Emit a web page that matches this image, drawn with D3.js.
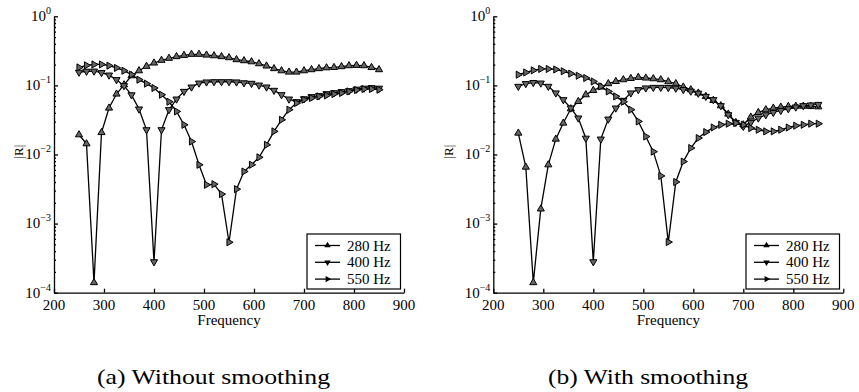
<!DOCTYPE html>
<html>
<head>
<meta charset="utf-8">
<script src="https://cdn.jsdelivr.net/npm/d3@7"></script>
</head>
<body style="margin:0">
<div id="chart"></div>
<script>
// frequencies of the sampled points
const freqs = [250,265,280,295,310,325,340,355,370,385,400,415,430,445,460,475,490,505,520,535,
  550,565,580,595,610,625,640,655,670,685,700,715,730,745,760,775,790,805,820,835,850];

// (a) without smoothing
const left280 = [0.0193,0.0143,0.00014,0.0208,0.047,0.075,0.102,0.138,0.163,0.189,
  0.211,0.231,0.247,0.261,0.272,0.282,0.282,0.275,0.269,0.261,
  0.252,0.236,0.228,0.220,0.206,0.191,0.175,0.163,0.156,0.156,
  0.163,0.169,0.175,0.180,0.182,0.187,0.193,0.195,0.193,0.182,0.169];
const left400 = [0.155,0.160,0.161,0.153,0.141,0.121,0.099,0.073,0.0455,0.0228,
  0.00028,0.0228,0.0445,0.0634,0.0818,0.0946,0.108,0.112,0.113,0.113,
  0.113,0.112,0.109,0.107,0.101,0.0946,0.0847,0.0733,0.0634,0.058,
  0.064,0.0686,0.071,0.0758,0.0783,0.081,0.0838,0.0881,0.091,0.0927,0.091];
const left550 = [0.182,0.195,0.201,0.201,0.193,0.179,0.163,0.143,0.121,0.106,
  0.0917,0.0733,0.058,0.042,0.0269,0.0154,0.0071,0.00364,0.00372,0.00267,
  0.000537,0.00315,0.00567,0.0071,0.0091,0.0138,0.0216,0.0318,0.0445,0.0556,
  0.0621,0.0657,0.0693,0.0716,0.075,0.0776,0.0818,0.0857,0.0887,0.0887,0.0867];

// (b) with smoothing
const right280 = [0.0204,0.00657,0.00014,0.00163,0.0071,0.0167,0.0285,0.0459,0.0586,0.0733,
  0.0847,0.0948,0.106,0.114,0.121,0.126,0.131,0.128,0.125,0.121,
  0.113,0.106,0.0948,0.0867,0.0776,0.0693,0.0607,0.0508,0.0385,0.0291,
  0.0269,0.0348,0.0406,0.0445,0.047,0.0486,0.0497,0.050,0.050,0.0497,0.049];
const right400 = [0.0968,0.106,0.110,0.108,0.0968,0.0776,0.0621,0.047,0.0337,0.0172,
  0.00028,0.0167,0.0325,0.047,0.0607,0.0776,0.0867,0.0917,0.0935,0.0935,
  0.093,0.091,0.087,0.0825,0.077,0.0693,0.0621,0.0508,0.0376,0.0291,
  0.0255,0.0291,0.0337,0.0376,0.0406,0.0434,0.0459,0.0486,0.0508,0.052,0.053];
const right550 = [0.143,0.154,0.165,0.173,0.173,0.170,0.160,0.148,0.138,0.128,
  0.114,0.0968,0.0818,0.0693,0.058,0.0445,0.0301,0.0182,0.011,0.0049,
  0.00054,0.004,0.0079,0.0124,0.0173,0.0211,0.0246,0.0269,0.0279,0.0285,
  0.0269,0.0241,0.0228,0.0216,0.0216,0.0228,0.0246,0.0261,0.0269,0.0279,0.0279];

const seriesNames = ["280 Hz", "400 Hz", "550 Hz"];
const xTicks = [200,300,400,500,600,700,800,900];
const yExps = [-4,-3,-2,-1,0];

const svg = d3.select("#chart").append("svg").attr("width", 859).attr("height", 392);

// every text goes through here so it gets the serif face
function txt(sel, size) {
  return sel.append("text").attr("font-family", "Liberation Serif").attr("font-size", size);
}

const markerRot = [0, 180, 90]; // up, down, right
const tri = d3.symbol().type(d3.symbolTriangle);

const panels = [
  { x0: 54, data: [left280, left400, left550], caption: "(a) Without smoothing", capX: 97, capW: 233, labX: 22.5, legX: 307 },
  { x0: 493.3, data: [right280, right400, right550], caption: "(b) With smoothing", capX: 548, capW: 200, labX: 452.5, legX: 746 }
];

let minors = [];
for (let e = -4; e < 0; e++) for (let m = 2; m <= 9; m++) minors.push(m * Math.pow(10, e));

panels.forEach(function (p) {
  let x = d3.scaleLinear().domain([200, 900]).range([p.x0, p.x0 + 350]);
  let y = d3.scaleLog().domain([1e-4, 1]).range([292.7, 16.3]);

  // axes first, text labels drawn by hand
  let ax = svg.append("g");
  ax.append("g").attr("transform", "translate(0," + y(1e-4) + ")")
    .call(d3.axisBottom(x).tickValues(xTicks).tickSizeInner(-4).tickSizeOuter(0).tickFormat(""));
  ax.append("g").attr("transform", "translate(" + p.x0 + ",0)")
    .call(d3.axisLeft(y).tickValues(yExps.map(e => Math.pow(10, e))).tickSizeInner(-4).tickSizeOuter(0).tickFormat(""));
  ax.append("g").attr("transform", "translate(" + p.x0 + ",0)")
    .call(d3.axisLeft(y).tickValues(minors).tickSizeInner(-2).tickSizeOuter(0).tickFormat(""))
    .select(".domain").remove();
  ax.selectAll(".domain, .tick line").attr("stroke", "#000").attr("stroke-width", 1.3);
  ax.selectAll(".tick text").remove();

  // lines + markers
  let g = svg.append("g");
  p.data.forEach(function (vals, si) {
    let pts = freqs.map((f, i) => [f, vals[i]]);
    g.append("path").datum(pts)
      .attr("d", d3.line().x(d => x(d[0])).y(d => y(d[1])))
      .attr("fill", "none").attr("stroke", "#000").attr("stroke-width", 1.3);
    g.selectAll(null).data(pts).join("path")
      .attr("d", tri.size(22)())
      .attr("transform", d => "translate(" + x(d[0]) + "," + y(d[1]) + ") rotate(" + markerRot[si] + ")")
      .attr("fill", "#666").attr("stroke", "#000").attr("stroke-width", 1);
  });

  let tg = svg.append("g");
  xTicks.forEach(function (v) {
    txt(tg, 15).attr("x", x(v)).attr("y", 309.5).attr("text-anchor", "middle").text(v);
  });

  // y tick labels 10^k
  yExps.forEach(function (e) {
    let t = txt(tg, 15).attr("x", p.x0 - 3).attr("y", y(Math.pow(10, e)) + 4.8).attr("text-anchor", "end");
    t.append("tspan").text("10");
    t.append("tspan").attr("font-size", 10).attr("dy", -7).text(e === 0 ? "0" : "\u2212" + (-e));
  });

  txt(tg, 15).attr("x", p.x0 + 175).attr("y", 324.5).attr("text-anchor", "middle").text("Frequency");
  txt(tg, 13).attr("transform", "translate(" + p.labX + ",151.7) rotate(-90)")
    .attr("text-anchor", "middle").text("|R|");

  // legend
  let lg = svg.append("g").attr("transform", "translate(" + p.legX + ",234)");
  lg.append("rect").attr("width", 93.5).attr("height", 55).attr("fill", "#fff")
    .attr("stroke", "#000").attr("stroke-width", 1.2);
  seriesNames.forEach(function (name, si) {
    let cy = 11.5 + si * 16.8;
    lg.append("line").attr("x1", 8).attr("x2", 33).attr("y1", cy).attr("y2", cy)
      .attr("stroke", "#000").attr("stroke-width", 1.3);
    lg.append("path").attr("d", tri.size(18)())
      .attr("transform", "translate(20.5," + cy + ") rotate(" + markerRot[si] + ")").attr("fill", "#000");
    txt(lg, 15).attr("x", 40).attr("y", cy + 5).text(name);
  });

  // caption
  txt(svg, 22).attr("x", p.capX).attr("y", 384)
    .attr("textLength", p.capW).attr("lengthAdjust", "spacingAndGlyphs").text(p.caption);
});
</script>
</body>
</html>
